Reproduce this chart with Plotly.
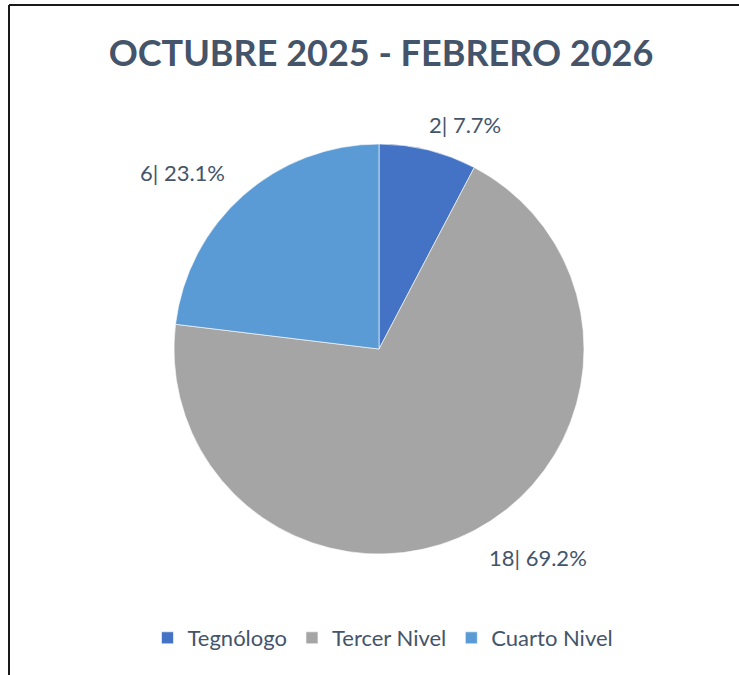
import plotly.graph_objects as go

categories = ["Tegnólogo", "Tercer Nivel", "Cuarto Nivel"]
counts = [2, 18, 6]
colors = ["#4472C4", "#A5A5A5", "#5B9BD5"]
title_text = "OCTUBRE 2025 - FEBRERO 2026"

total = sum(counts)
label_texts = [f"{c}| {c / total * 100:.1f}%" for c in counts]

W, H = 739, 675
cx, cy, r = 379, 349, 205

fig = go.Figure(go.Pie(
    labels=categories,
    values=counts,
    sort=False,
    direction="clockwise",
    rotation=0,
    marker=dict(colors=colors, line=dict(color="rgba(255,255,255,0.6)", width=1)),
    textinfo="none",
    hoverinfo="label+value+percent",
    domain=dict(x=[(cx - r) / W, (cx + r) / W], y=[(H - cy - r) / H, (H - cy + r) / H]),
))

# data label placement (Excel style, outside the slices)
label_pos = [(465, 125), (538, 557), (182, 172)]
annotations = []
for txt, (lx, ly) in zip(label_texts, label_pos):
    annotations.append(dict(
        text=txt, x=lx / W, y=1 - ly / H, xref="paper", yref="paper",
        showarrow=False, xanchor="center", yanchor="middle",
        font=dict(family="Lato, Liberation Sans, sans-serif", size=22, color="#44546A"),
    ))

fig.update_layout(
    width=W, height=H,
    margin=dict(l=0, r=0, t=0, b=0),
    paper_bgcolor="white",
    plot_bgcolor="white",
    title=dict(
        text=f"<b>{title_text}</b>",
        x=381 / W, xanchor="center", y=1 - 53 / H, yanchor="middle",
        font=dict(family="Lato, Liberation Sans, sans-serif", size=36, color="#44546A"),
    ),
    legend=dict(
        orientation="h", x=383 / W, xanchor="center", y=1 - 638 / H, yanchor="middle",
        font=dict(family="Lato, Liberation Sans, sans-serif", size=22, color="#44546A"),
        itemclick=False,
    ),
    annotations=annotations,
    shapes=[
        dict(type="line", xref="paper", yref="paper", x0=9 / W, y0=0, x1=9 / W, y1=1 - 5 / H,
             line=dict(color="#1A1A1A", width=2)),
        dict(type="line", xref="paper", yref="paper", x0=9 / W, y0=1 - 5 / H, x1=1, y1=1 - 5 / H,
             line=dict(color="#1A1A1A", width=2)),
    ],
)

fig.write_html(
    "out.html",
    config={"displayModeBar": False},
    post_script="document.body.style.margin='0';document.body.style.overflow='hidden';",
)
